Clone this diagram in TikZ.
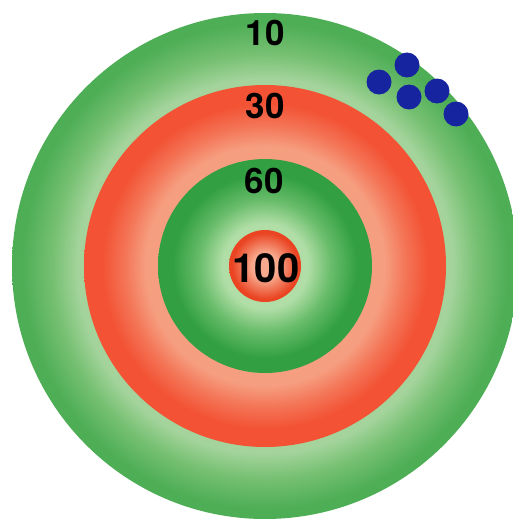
\documentclass[tikz,border=0pt]{standalone}
\usepackage{fontspec}
\setmainfont{TeX Gyre Heros}
\usetikzlibrary{positioning}
\definecolor{grnlite}{RGB}{164,212,156}
\definecolor{grnmid}{RGB}{118,192,114}
\definecolor{grndark}{RGB}{78,174,86}
\definecolor{redlite}{RGB}{246,158,128}
\definecolor{redmid}{RGB}{244,116,86}
\definecolor{reddark}{RGB}{243,82,52}
\definecolor{ingrnlite}{RGB}{176,222,166}
\definecolor{ingrnmid}{RGB}{104,188,106}
\definecolor{ingrndark}{RGB}{50,160,66}
\definecolor{eyelite}{RGB}{247,170,142}
\definecolor{eyedark}{RGB}{234,68,34}
\definecolor{shotblue}{RGB}{22,36,160}
% radial fills, edge of the disc at 25bp
\pgfdeclareradialshading{ringten}{\pgfpoint{0bp}{0bp}}{%
  color(0bp)=(grnlite); color(18.5bp)=(grnlite); color(21bp)=(grnmid);
  color(24bp)=(grndark); color(50bp)=(grndark)}
\pgfdeclareradialshading{ringthirty}{\pgfpoint{0bp}{0bp}}{%
  color(0bp)=(redlite); color(16.5bp)=(redlite); color(19.5bp)=(redmid);
  color(22.5bp)=(reddark); color(50bp)=(reddark)}
\pgfdeclareradialshading{ringsixty}{\pgfpoint{0bp}{0bp}}{%
  color(0bp)=(ingrnlite); color(10bp)=(ingrnlite); color(15.5bp)=(ingrnmid);
  color(21.5bp)=(ingrndark); color(50bp)=(ingrndark)}
\pgfdeclareradialshading{ringeye}{\pgfpoint{0bp}{0bp}}{%
  color(0bp)=(eyelite); color(9bp)=(eyelite); color(23bp)=(eyedark);
  color(50bp)=(eyedark)}
\newcommand{\scorefont}{\fontsize{35}{35}\selectfont\bfseries}
\tikzset{
  score/.style={inner sep=0pt,font=\scorefont,text=black},
  shot/.style={circle,fill=shotblue,minimum size=25pt,inner sep=0pt},
}
\begin{document}
\begin{tikzpicture}[x=1pt,y=-1pt]
  \useasboundingbox (0,0) rectangle (513,519);
  \clip (0,0) rectangle (513,519);
  \coordinate (c) at (265,266);
  % target rings, outside in
  \shade[shading=ringten] (c) circle[radius=253];
  \shade[shading=ringthirty] (c) circle[radius=181];
  \shade[shading=ringsixty] (c) circle[radius=107];
  \shade[shading=ringeye] (c) circle[radius=36];
  % scores
  \node[score] (s10) at (265,33) {10};
  \node[score] (s30) at (265,106) {30};
  \node[score] (s60) at (264,181) {60};
  \node[score,font=\fontsize{40}{40}\selectfont\bfseries] (s100) at (266,268) {100};
  % hits
  \foreach \x/\y [count=\i] in {379/82,407/65,409/97,437/91,456/114}{
    \node[shot] (hit\i) at (\x,\y) {};
  }
\end{tikzpicture}
\end{document}
